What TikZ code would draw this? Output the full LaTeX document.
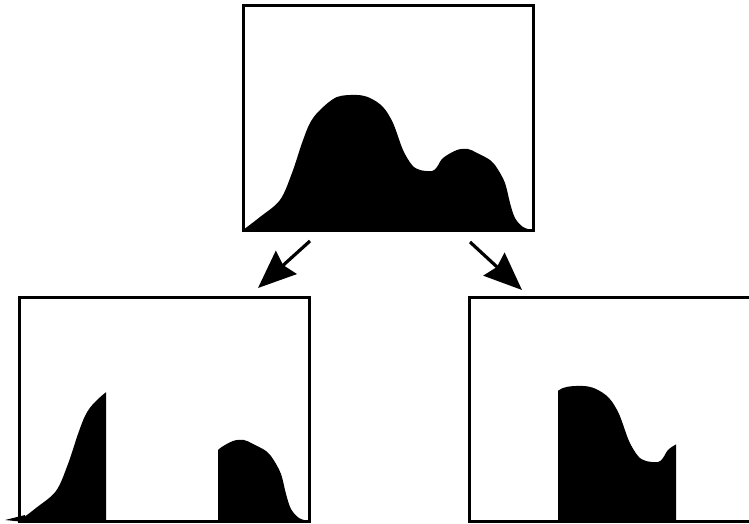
\documentclass[tikz,border=0pt]{standalone}
\usetikzlibrary{arrows.meta}
\begin{document}
\begin{tikzpicture}[x=1pt,y=-1pt,
  box/.style={draw=black,line width=3pt,minimum width=290pt,minimum height=224pt,inner sep=0pt,outer sep=0pt,anchor=south west},
  arr/.style={line width=3.2pt,-{Stealth[length=38pt,width=31pt,inset=4pt]}},
  hist/.pic={\fill[black] plot[smooth,tension=0.55] coordinates {(0,0) (17,-13) (37,-30) (49,-57) (59,-87) (67,-107) (77,-120) (94,-133) (114,-135) (127,-132) (140,-123) (150,-107) (160,-80) (169,-65) (177,-60) (189,-59) (194,-63) (200,-72) (214,-80) (225,-81) (234,-77) (247,-70) (254,-62) (262,-47) (267,-27) (272,-12) (280,-3) (289,0)} -- cycle;}]
\useasboundingbox (0,0) rectangle (749,524);
\clip (0,0) rectangle (749,524);
% top histogram
\pic at (243,230) {hist};
% left histogram (clipped)
\begin{scope}
  \clip (0,0) rectangle (106,524) (218,0) rectangle (749,524);
  \pic at (19,521) {hist};
  \fill (5,520) -- (25,515) -- (25,522) -- cycle;
\end{scope}
% right histogram (clipped)
\begin{scope}
  \clip (558,0) rectangle (676,524);
  \pic at (469,521) {hist};
\end{scope}
% boxes
\node[box] (top) at (243,230) {};
\node[box] (left) at (19,521) {};
\node[box] (right) at (469,521) {};
% arrows
\coordinate (a1s) at (310,241);
\coordinate (a1e) at (258,288);
\coordinate (a2s) at (470,242);
\coordinate (a2e) at (522,290);
\draw[arr] (a1s) -- (a1e);
\draw[arr] (a2s) -- (a2e);
\end{tikzpicture}
\end{document}
